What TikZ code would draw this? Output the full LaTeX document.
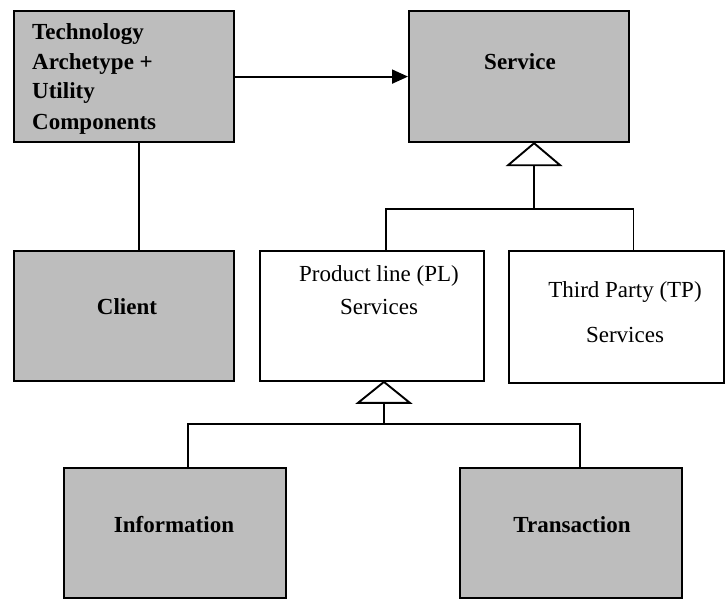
\documentclass[tikz,border=0pt]{standalone}
\usepackage{fontspec}
\setmainfont{Liberation Serif}
\usetikzlibrary{arrows.meta,calc}
\begin{document}
\begin{tikzpicture}[x=1pt,y=-1pt,
  shadedbox/.style={draw=black,line width=2.2pt,fill=black!26,rectangle,inner sep=0pt,anchor=north west},
  plainbox/.style={draw=black,line width=1.9pt,fill=white,rectangle,inner sep=0pt,anchor=north west},
  link/.style={draw=black,line width=1.9pt},
  genhead/.style={draw=black,line width=1.9pt,fill=white,line join=miter},
  btext/.style={font=\fontsize{23}{28}\selectfont\bfseries,inner sep=0pt},
  rtext/.style={font=\fontsize{23}{28}\selectfont,inner sep=0pt}
]
\useasboundingbox (0,0) rectangle (725,599);

% boxes
\node[shadedbox,minimum width=220pt,minimum height=131pt] (tech) at (13,10) {};
\node[shadedbox,minimum width=220pt,minimum height=131pt] (svc) at (408,10) {};
\node[shadedbox,minimum width=220pt,minimum height=130pt] (client) at (13,250) {};
\node[plainbox,minimum width=224pt,minimum height=130pt] (pl) at (259,250) {};
\node[plainbox,minimum width=215pt,minimum height=132pt] (tp) at (508,250) {};
\node[shadedbox,minimum width=222pt,minimum height=130pt] (info) at (63,467) {};
\node[shadedbox,minimum width=222pt,minimum height=130pt] (trans) at (459,467) {};

% texts
\node[btext,anchor=base west] (t1) at (32,40) {Technology};
\node[btext,anchor=base west] (t2) at (32,70) {Archetype +};
\node[btext,anchor=base west] (t3) at (32,99) {Utility};
\node[btext,anchor=base west] (t4) at (32,129) {Components};
\node[btext,anchor=base] (svct) at (520,70) {Service};
\node[btext,anchor=base] (clientt) at (127,314) {Client};
\node[rtext,anchor=base] (plt1) at (379,281) {Product line (PL)};
\node[rtext,anchor=base] (plt2) at (379,314) {Services};
\node[rtext,anchor=base] (tpt1) at (625,297) {Third Party (TP)};
\node[rtext,anchor=base] (tpt2) at (625,342) {Services};
\node[btext,anchor=base] (infot) at (174,532) {Information};
\node[btext,anchor=base] (transt) at (572,532) {Transaction};

% association
\draw[link,-{Triangle[length=16pt,width=14pt]}] (tech.east) -- (svc.west);
\draw[link] ($(tech.south)+(15,0)$) -- ($(client.north)+(15,0)$);

% generalisation of Service
\coordinate (svcapex) at ($(svc.south)+(15,0)$);
\coordinate (svcbase) at ($(svcapex)+(0,22)$);
\coordinate (j1) at ($(svcapex)+(0,66)$);
\coordinate (plTop) at ($(pl.north)+(14,0)$);
\coordinate (tpTop) at ($(tp.north)+(17,0)$);
\draw[link] (plTop) |- (j1) -| (tpTop);
\draw[link] (j1) -- (svcbase);
\draw[genhead] (svcapex) -- ($(svcbase)+(-26,0)$) -- ($(svcbase)+(26,0)$) -- cycle;

% generalisation of Product line services
\coordinate (plapex) at ($(pl.south)+(12,0)$);
\coordinate (plbase) at ($(plapex)+(0,21)$);
\coordinate (j2) at ($(plapex)+(0,42)$);
\coordinate (infoTop) at ($(info.north)+(13,0)$);
\coordinate (transTop) at ($(trans.north)+(9,0)$);
\draw[link] (infoTop) |- (j2) -| (transTop);
\draw[link] (j2) -- (plbase);
\draw[genhead] (plapex) -- ($(plbase)+(-26,0)$) -- ($(plbase)+(26,0)$) -- cycle;
\end{tikzpicture}
\end{document}
